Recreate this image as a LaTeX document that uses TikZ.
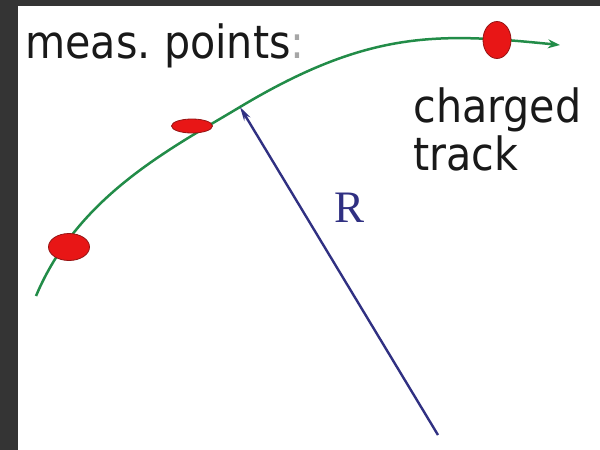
\documentclass[tikz,border=0pt]{standalone}
\usepackage{fontspec}
\usetikzlibrary{shapes.geometric,arrows.meta}
\newfontfamily\labelfont{DejaVu Sans Condensed}
\newfontfamily\rfont{Liberation Serif}
\definecolor{frame}{RGB}{52,52,52}
\definecolor{trackgreen}{RGB}{34,140,72}
\definecolor{rblue}{RGB}{48,48,130}
\definecolor{dotred}{RGB}{232,22,22}
\definecolor{dotedge}{RGB}{150,20,20}
\tikzset{
  hitdot/.style={ellipse, draw=dotedge, line width=0.4pt, fill=dotred, inner sep=0pt},
  tracklabel/.style={inner sep=0pt, anchor=base west, text=black!90, font=\labelfont\fontsize{22.9}{27}\selectfont},
  trackline/.style={draw=trackgreen, line width=1.25pt, -{Stealth[length=6pt,width=4.5pt]}},
  radline/.style={draw=rblue, line width=1.2pt, -{Stealth[length=7pt,width=3.5pt]}},
}
\begin{document}
\begin{tikzpicture}[x=0.5pt,y=-0.5pt]
\useasboundingbox (0,0) rectangle (600,450);
\fill[frame] (0,0) rectangle (600,450);
\fill[white] (18,6) rectangle (600,450);
% track
\coordinate (tstart) at (36,296);
\coordinate (tmid) at (240,107);
\coordinate (tend) at (560,45);
\draw[trackline] (tstart) .. controls (78,196) and (170,149) .. (tmid)
                 .. controls (370,29) and (440,33) .. (tend);
% radius
\coordinate (rbase) at (438,435);
\draw[radline] (rbase) -- (tmid);
\node[inner sep=0pt, text=rblue, font=\rfont\fontsize{22.5}{27}\selectfont] (rlab) at (350,208) {R};
% measurement points
\node[hitdot, minimum width=20.5pt, minimum height=13.5pt] (p1) at (69,247) {};
\node[hitdot, minimum width=20.5pt, minimum height=7pt] (p2) at (192,126) {};
\node[hitdot, minimum width=14pt, minimum height=18.5pt] (p3) at (497,40) {};
% labels
\node[tracklabel] (meas) at (25,58) {meas.\hspace{-2pt} points{\color{black!35}:}};
\node[tracklabel] (charged) at (413,122) {charged};
\node[tracklabel] (track) at (413,170) {track};
\end{tikzpicture}
\end{document}
